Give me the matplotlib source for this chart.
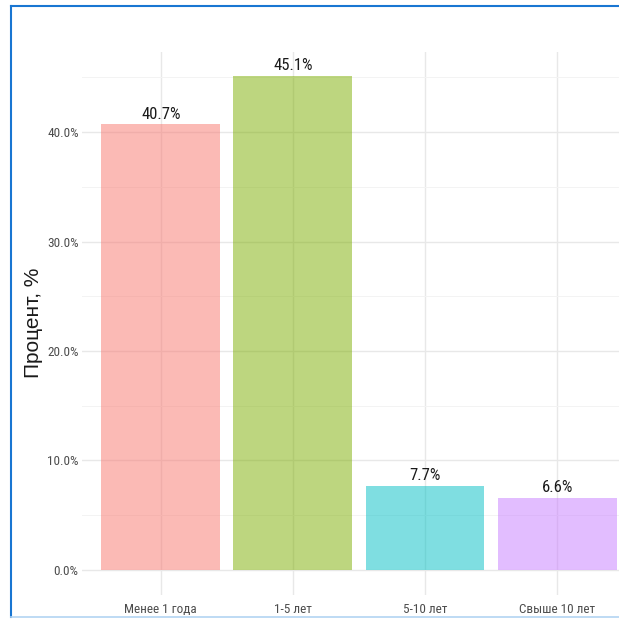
import matplotlib
matplotlib.use("Agg")
import matplotlib.pyplot as plt
from matplotlib.lines import Line2D
from matplotlib.ticker import MultipleLocator, FuncFormatter

categories = ["Менее 1 года", "1-5 лет", "5-10 лет", "Свыше 10 лет"]
percent = [40.7, 45.1, 7.7, 6.6]
colors = ["#F8766D", "#7CAE00", "#00BFC4", "#C77CFF"]

narrow = ["Roboto Condensed", "Open Sans Condensed", "Liberation Sans Narrow",
          "Arial Narrow", "Roboto", "DejaVu Sans"]
regular = ["Liberation Sans", "DejaVu Sans"]

fig = plt.figure(figsize=(6.19, 6.19), dpi=100)
ax = fig.add_axes([0.1317, 0.0393, 0.8963, 0.8775])

x = list(range(1, len(categories) + 1))
ax.bar(x, percent, width=0.9, color=colors, alpha=0.5, zorder=2, linewidth=0)

for xi, v in zip(x, percent):
    ax.annotate(f"{v:.1f}%", (xi, v), xytext=(0, 2), textcoords="offset points",
                ha="center", va="bottom", fontsize=12, family=narrow,
                stretch="condensed", color="#1a1a1a", zorder=3)

ymax = max(percent)
ax.set_ylim(-0.05 * ymax, 1.05 * ymax)
ax.set_xlim(0.4, len(categories) + 0.6)

ax.yaxis.set_major_locator(MultipleLocator(10))
ax.yaxis.set_minor_locator(MultipleLocator(5))
ax.yaxis.set_major_formatter(FuncFormatter(lambda v, p: f"{v:.1f}%"))
ax.set_xticks(x)
ax.set_xticklabels(categories)

ax.grid(which="major", axis="both", color="#E8E8E8", linewidth=1.0, zorder=0)
ax.grid(which="minor", axis="y", color="#F3F3F3", linewidth=0.7, zorder=0)
ax.set_axisbelow(True)

for s in ax.spines.values():
    s.set_visible(False)
ax.tick_params(axis="both", which="both", length=0)
ax.tick_params(axis="y", pad=2)
ax.tick_params(axis="x", pad=6)
for lab in ax.get_xticklabels() + ax.get_yticklabels():
    lab.set_family(narrow)
    lab.set_stretch("condensed")
    lab.set_fontsize(9.5)
    lab.set_color("#4D4D4D")

ax.set_ylabel("Процент, %", fontsize=15, family=regular, color="#1a1a1a")
ax.yaxis.set_label_coords(-0.07, 0.5)

# frame around the figure
fig.add_artist(Line2D([10.5 / 619, 10.5 / 619], [1 - 5.5 / 619, 1 - 617 / 619],
                      transform=fig.transFigure, color="#1976D2", linewidth=1.5))
fig.add_artist(Line2D([10.5 / 619, 1.0], [1 - 5.5 / 619, 1 - 5.5 / 619],
                      transform=fig.transFigure, color="#1976D2", linewidth=1.5))
fig.add_artist(Line2D([10.5 / 619, 1.0], [1 - 617 / 619, 1 - 617 / 619],
                      transform=fig.transFigure, color="#B3D4F2", linewidth=1.2))

fig.savefig("out.png", dpi=100)
